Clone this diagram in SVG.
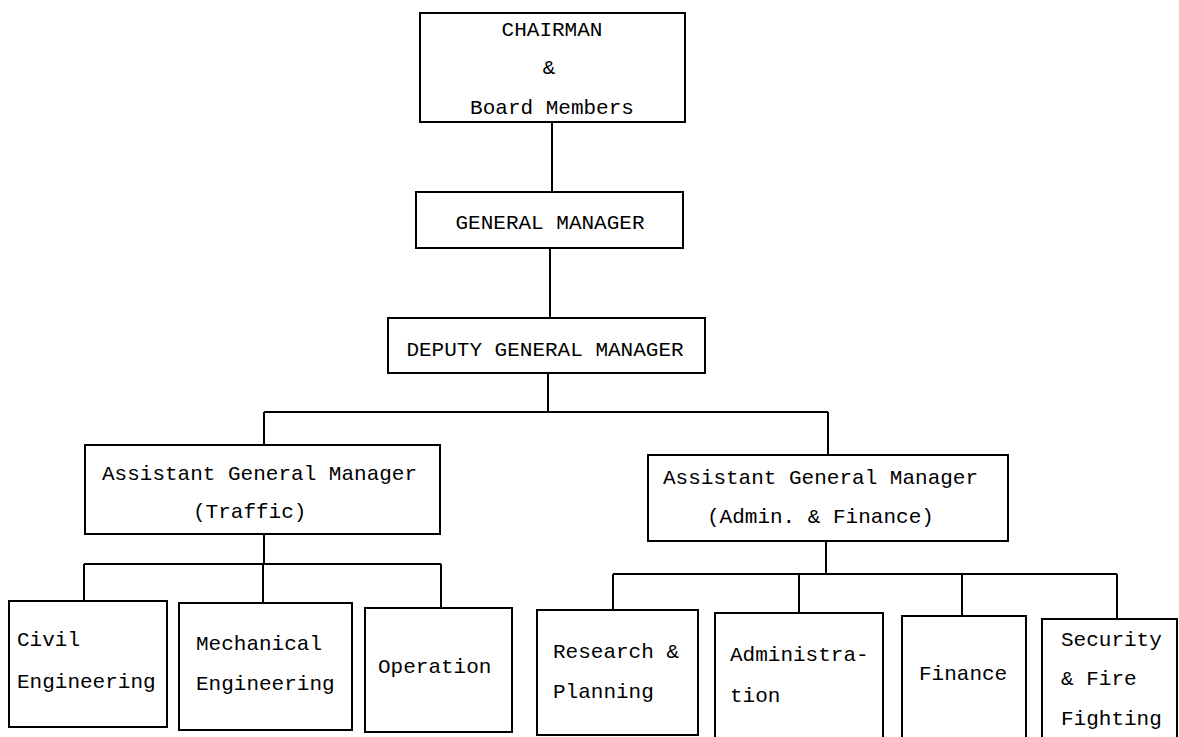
<svg xmlns="http://www.w3.org/2000/svg" width="1179" height="737" viewBox="0 0 1179 737">
  <style>
    .box { fill: #ffffff; stroke: #000000; stroke-width: 2; }
    .wire { fill: none; stroke: #000000; stroke-width: 2; }
    .t { font-family: "Liberation Mono", "DejaVu Sans Mono", monospace; font-size: 21px; fill: #000000; }
    .c { text-anchor: middle; }
  </style>
  <rect width="1179" height="737" fill="#ffffff"/>

  <!-- connectors -->
  <g id="connectors">
    <path class="wire" d="M552 122 V192"/>
    <path class="wire" d="M550 248 V318"/>
    <path class="wire" d="M548 373 V412 M264 412 H828 M264 412 V445 M828 412 V455"/>
    <path class="wire" d="M264 534 V564 M84 564 H441 M84 564 V601 M263 564 V603 M441 564 V608"/>
    <path class="wire" d="M826 541 V574 M613 574 H1117 M613 574 V610 M799 574 V613 M962 574 V616 M1117 574 V619"/>
  </g>

  <g id="chairman">
    <rect class="box" x="420" y="13" width="265" height="109"/>
    <text class="t c" x="552" y="36">CHAIRMAN</text>
    <text class="t c" x="549" y="74">&amp;</text>
    <text class="t c" x="552" y="114">Board Members</text>
  </g>

  <g id="general-manager">
    <rect class="box" x="416" y="192" width="267" height="56"/>
    <text class="t c" x="550" y="229">GENERAL MANAGER</text>
  </g>

  <g id="deputy-general-manager">
    <rect class="box" x="388" y="318" width="317" height="55"/>
    <text class="t c" x="545" y="356">DEPUTY GENERAL MANAGER</text>
  </g>

  <g id="agm-traffic">
    <rect class="box" x="85" y="445" width="355" height="89"/>
    <text class="t" x="102" y="480">Assistant General Manager</text>
    <text class="t" x="193" y="518">(Traffic)</text>
  </g>

  <g id="agm-admin-finance">
    <rect class="box" x="648" y="455" width="360" height="86"/>
    <text class="t" x="663" y="484">Assistant General Manager</text>
    <text class="t" x="707" y="523">(Admin. &amp; Finance)</text>
  </g>

  <g id="civil-engineering">
    <rect class="box" x="9" y="601" width="158" height="126"/>
    <text class="t" x="17" y="646">Civil</text>
    <text class="t" x="17" y="688">Engineering</text>
  </g>

  <g id="mechanical-engineering">
    <rect class="box" x="179" y="603" width="173" height="127"/>
    <text class="t" x="196" y="650">Mechanical</text>
    <text class="t" x="196" y="690">Engineering</text>
  </g>

  <g id="operation">
    <rect class="box" x="365" y="608" width="147" height="124"/>
    <text class="t" x="378" y="673">Operation</text>
  </g>

  <g id="research-planning">
    <rect class="box" x="537" y="610" width="161" height="125"/>
    <text class="t" x="553" y="658">Research &amp;</text>
    <text class="t" x="553" y="698">Planning</text>
  </g>

  <g id="administration">
    <rect class="box" x="715" y="613" width="168" height="130"/>
    <text class="t" x="730" y="661">Administra-</text>
    <text class="t" x="730" y="702">tion</text>
  </g>

  <g id="finance">
    <rect class="box" x="902" y="616" width="124" height="130"/>
    <text class="t" x="919" y="680">Finance</text>
  </g>

  <g id="security-fire-fighting">
    <rect class="box" x="1042" y="619" width="135" height="130"/>
    <text class="t" x="1061" y="646">Security</text>
    <text class="t" x="1061" y="685">&amp; Fire</text>
    <text class="t" x="1061" y="725">Fighting</text>
  </g>
</svg>
